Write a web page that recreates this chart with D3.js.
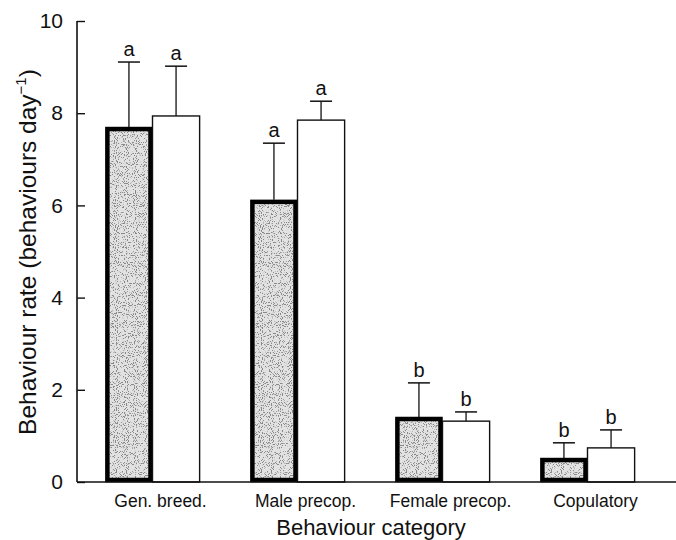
<!DOCTYPE html>
<html>
<head>
<meta charset="utf-8">
<script src="https://cdn.jsdelivr.net/npm/d3@7"></script>
<style>
  body { margin: 0; background: #fff; }
  text { font-family: "Liberation Sans", Arial, sans-serif; fill: #111; }
</style>
</head>
<body>
<script>
// behaviour rates per category, two groups (stippled / open)
var categories = ["Gen. breed.", "Male precop.", "Female precop.", "Copulatory"];
var series = ["stippled", "open"];
var stippledMean = [7.70, 6.12, 1.41, 0.52];
var stippledUpper = [9.11, 7.35, 2.15, 0.85];
var openMean = [7.94, 7.85, 1.32, 0.74];
var openUpper = [9.02, 8.26, 1.52, 1.13];
var stippledLetters = ["a", "a", "b", "b"];
var openLetters = ["a", "a", "b", "b"];
var yTicks = [0, 2, 4, 6, 8, 10];

var W = 676, H = 540;
var axisX = 77, axisY = 482;

var svg = d3.select("body").append("svg")
    .attr("width", W)
    .attr("height", H);

// speckled fill for the dark bars
var defs = svg.append("defs");
var filt = defs.append("filter").attr("id", "speckle")
    .attr("x", 0).attr("y", 0).attr("width", 1).attr("height", 1);
filt.append("feTurbulence")
    .attr("type", "fractalNoise")
    .attr("baseFrequency", 0.9)
    .attr("numOctaves", 1)
    .attr("seed", 3)
    .attr("result", "noise");
filt.append("feColorMatrix")
    .attr("in", "noise")
    .attr("type", "matrix")
    .attr("values", "0 0 0 0 0.25  0 0 0 0 0.25  0 0 0 0 0.25  0 0 0 -14 6.2")
    .attr("result", "dots");
filt.append("feFlood").attr("flood-color", "#e2e2e2").attr("result", "bg");
filt.append("feComposite").attr("in", "dots").attr("in2", "bg").attr("operator", "over");

var data = categories.map(function(c, i) {
    return {
        cat: c,
        bars: [
            {s: "stippled", mean: stippledMean[i], upper: stippledUpper[i], letter: stippledLetters[i]},
            {s: "open", mean: openMean[i], upper: openUpper[i], letter: openLetters[i]}
        ]
    };
});

var x0 = d3.scaleBand()
    .domain(categories)
    .range([80, 660])
    .paddingInner(0.35)
    .paddingOuter(0.175);

var x1 = d3.scaleBand()
    .domain(series)
    .range([0, x0.bandwidth()]);

var y = d3.scaleLinear()
    .domain([0, 10])
    .range([axisY, 21]);

var groups = svg.selectAll("g.group")
    .data(data)
    .enter()
    .append("g")
    .attr("class", "group")
    .attr("transform", function(d) { return "translate(" + x0(d.cat) + ",0)"; });

var bar = groups.selectAll("g.bar")
    .data(function(d) { return d.bars; })
    .enter()
    .append("g")
    .attr("class", "bar");

// error bars (upper only)
bar.append("line")
    .attr("x1", function(d) { return x1(d.s) + x1.bandwidth() / 2; })
    .attr("x2", function(d) { return x1(d.s) + x1.bandwidth() / 2; })
    .attr("y1", function(d) { return y(d.mean); })
    .attr("y2", function(d) { return y(d.upper); })
    .attr("stroke", "#111")
    .attr("stroke-width", 1.3);

bar.append("line")
    .attr("x1", function(d) { return x1(d.s) + x1.bandwidth() / 2 - 11; })
    .attr("x2", function(d) { return x1(d.s) + x1.bandwidth() / 2 + 11; })
    .attr("y1", function(d) { return y(d.upper); })
    .attr("y2", function(d) { return y(d.upper); })
    .attr("stroke", "#111")
    .attr("stroke-width", 1.5);

bar.filter(function(d) { return d.s === "open"; })
    .append("rect")
    .attr("x", function(d) { return x1(d.s); })
    .attr("y", function(d) { return y(d.mean); })
    .attr("width", x1.bandwidth())
    .attr("height", function(d) { return axisY - y(d.mean); })
    .attr("fill", "#fff")
    .attr("stroke", "#111")
    .attr("stroke-width", 1.4);

var dark = bar.filter(function(d) { return d.s === "stippled"; });
dark.append("rect")
    .attr("x", function(d) { return x1(d.s) + 2; })
    .attr("y", function(d) { return y(d.mean) + 2; })
    .attr("width", x1.bandwidth() - 4)
    .attr("height", function(d) { return axisY - y(d.mean) - 4; })
    .attr("fill", "#ccc")
    .attr("filter", "url(#speckle)");
dark.append("rect")
    .attr("x", function(d) { return x1(d.s) + 2; })
    .attr("y", function(d) { return y(d.mean) + 2; })
    .attr("width", x1.bandwidth() - 4)
    .attr("height", function(d) { return axisY - y(d.mean) - 4; })
    .attr("fill", "none")
    .attr("stroke", "#000")
    .attr("stroke-width", 4.5);

bar.append("text")
    .attr("x", function(d) { return x1(d.s) + x1.bandwidth() / 2; })
    .attr("y", function(d) { return y(d.upper) - 6; })
    .attr("text-anchor", "middle")
    .attr("font-size", 20)
    .text(function(d) { return d.letter; });

// axes
svg.append("line")
    .attr("x1", axisX).attr("x2", W)
    .attr("y1", axisY).attr("y2", axisY)
    .attr("stroke", "#111").attr("stroke-width", 1.6);

var yAxisGroup = svg.append("g")
    .attr("class", "yAxis")
    .attr("transform", "translate(" + axisX + ",0)");
var yAxis = d3.axisRight(y).tickValues(yTicks).tickSize(8).tickFormat(d3.format("d"));
yAxisGroup.call(yAxis);
yAxisGroup.select(".domain").remove();
yAxisGroup.append("line")
    .attr("y1", y(0)).attr("y2", y(10))
    .attr("stroke", "#111").attr("stroke-width", 1.6);
yAxisGroup.selectAll(".tick line").attr("stroke", "#111").attr("stroke-width", 1.4);
yAxisGroup.selectAll(".tick text")
    .attr("x", -14)
    .attr("text-anchor", "end")
    .attr("font-size", 21)
    .attr("font-family", "Liberation Sans, Arial, sans-serif")
    .attr("fill", "#111");

svg.selectAll("text.cat")
    .data(categories)
    .enter()
    .append("text")
    .attr("class", "cat")
    .attr("x", function(d) { return x0(d) + x0.bandwidth() / 2 + 8; })
    .attr("y", 507)
    .attr("text-anchor", "middle")
    .attr("font-size", 17.5)
    .text(function(d) { return d; });

svg.append("text")
    .attr("x", 371)
    .attr("y", 535)
    .attr("text-anchor", "middle")
    .attr("font-size", 22)
    .text("Behaviour category");

var yl = svg.append("text")
    .attr("transform", "translate(36,252) rotate(-90)")
    .attr("text-anchor", "middle")
    .attr("font-size", 24.5);
yl.append("tspan").text("Behaviour rate (behaviours day");
yl.append("tspan").attr("dy", -10).attr("font-size", 15).text("−1");
yl.append("tspan").attr("dy", 10).text(")");
</script>
</body>
</html>
